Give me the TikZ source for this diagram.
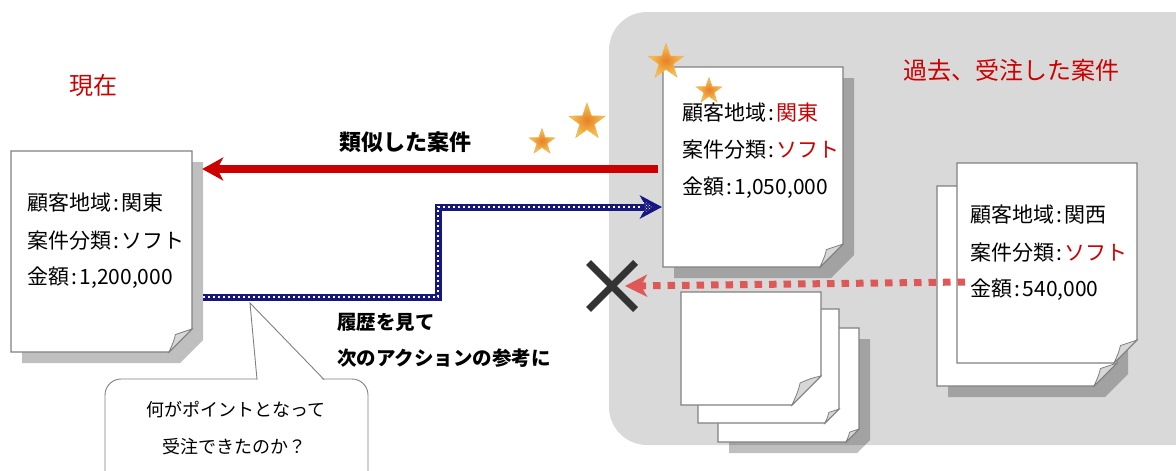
\documentclass[tikz,border=0pt]{standalone}
\usepackage{fontspec}
\newfontfamily\jp{Noto Sans CJK JP}
\usetikzlibrary{arrows.meta,shapes.geometric,shapes.misc,patterns}
\definecolor{redc}{RGB}{204,0,0}
\definecolor{navyc}{RGB}{22,22,128}
\definecolor{regionc}{RGB}{217,217,217}
\definecolor{pagelinec}{RGB}{128,128,128}
\definecolor{foldc}{RGB}{215,215,215}
\definecolor{dashredc}{RGB}{222,88,88}
\definecolor{crossc}{RGB}{51,51,51}
\definecolor{starin}{RGB}{232,128,40}
\definecolor{starout}{RGB}{247,200,80}
\definecolor{starline}{RGB}{236,180,90}
\newcommand\cln{\hbox to 0.5em{\hss:\hss}}
\newcommand\docpage[6]{%
  \filldraw[pageline] (#2,#3) -- (#4,#3) -- (#4,{#5-#6}) -- ({#4-#6},#5) -- (#2,#5) -- cycle;
  \filldraw[foldstyle] (#4,{#5-#6}) .. controls ({#4-0.35*#6},{#5-0.92*#6}) .. ({#4-0.72*#6},{#5-0.76*#6}) .. controls ({#4-0.8*#6},{#5-0.45*#6}) .. ({#4-#6},#5) -- cycle;
  \node[inner sep=0pt, minimum width={#4-#2}, minimum height={#5-#3}] (#1) at ({(#2+#4)/2},{(#3+#5)/2}) {};
}
\newcommand\docshadow[6]{%
  \fill[shadowstyle] ({#1+#6},{#2+#6}) -- ({#3+#6},{#2+#6}) -- ({#3+#6},{#4+#6-#5}) -- ({#3+#6-#5},{#4+#6}) -- ({#1+#6},{#4+#6}) -- cycle;
}
\begin{document}
\begin{tikzpicture}[x=1pt,y=-1pt,
  pageline/.style={draw=pagelinec, line width=1.1pt, fill=white, line join=miter},
  foldstyle/.style={draw=pagelinec, line width=0.8pt, fill=foldc},
  shadowstyle/.style={fill=black, fill opacity=0.25},
  doctext/.style={anchor=west, inner sep=0pt, font=\jp\fontsize{21}{25}\selectfont},
  titletext/.style={inner sep=0pt, text=redc, font=\jp\fontsize{24}{28}\selectfont},
  boldtext/.style={anchor=west, inner sep=0pt, font=\jp\bfseries\fontsize{19.5}{24}\selectfont},
  calltext/.style={inner sep=0pt, font=\jp\fontsize{18}{22}\selectfont},
  starc/.style={star, star points=5, star point ratio=2.5, inner sep=0pt, shade, shading=radial, inner color=starin, outer color=starout, draw=starline, line width=0.6pt},
  redarrow/.style={draw=redc, line width=8pt, -{Stealth[length=21pt,width=23pt,inset=6pt]}},
  bluearrow/.style={draw=navyc, line width=7pt, line join=miter, -{Stealth[length=22pt,width=23pt,inset=6pt]}},
  bluedots/.style={draw=white, line width=2.2pt, dash pattern=on 2.2pt off 2.8pt},
  dashredarrow/.style={draw=dashredc, line width=7pt, dash pattern=on 7.5pt off 7pt, -{Stealth[length=22pt,width=22pt,inset=6pt]}},
]
\useasboundingbox (0,0) rectangle (1176,471);
\clip (0,0) rectangle (1176,471);
% region of past cases
\fill[regionc, rounded corners=38pt] (609,12) rectangle (1240,445);

% current document
\docshadow{11}{151}{192}{352}{23}{11}
\docpage{d1}{11}{151}{192}{352}{23}
% similar past document
\docshadow{663}{67}{843}{267}{23}{11}
\docpage{d2}{663}{67}{843}{267}{23}
% stack of documents
\docshadow{718}{328}{859}{442}{13}{11}
\docpage{s3}{718}{328}{859}{442}{13}
\docpage{s2}{698}{309}{839}{423}{14}
\docpage{s1}{681}{292}{821}{405}{29}
% other past document
\docshadow{937}{186}{1117}{386}{23}{11}
\docpage{d3b}{937}{186}{1117}{386}{23}
\docpage{d3}{957}{163}{1137}{363}{23}

% titles
\node[titletext] (now) at (93,85) {現在};
\node[titletext] (past) at (1011,70) {過去、受注した案件};

% document texts
\node[doctext] (d1a) at (27,203) {顧客地域\cln 関東};
\node[doctext] (d1b) at (27,241) {案件分類\cln ソフト};
\node[doctext] (d1c) at (27,278) {金額\cln 1,200,000};
\node[doctext] (d2a) at (682,113) {顧客地域\cln\textcolor{redc}{関東}};
\node[doctext] (d2b) at (682,150) {案件分類\cln\textcolor{redc}{ソフト}};
\node[doctext] (d2c) at (682,188) {金額\cln 1,050,000};
\node[doctext] (d3a) at (970,215) {顧客地域\cln 関西};
\node[doctext] (d3b) at (970,253) {案件分類\cln\textcolor{redc}{ソフト}};
\node[doctext] (d3c) at (970,290) {金額\cln 540,000};

% connectors
\coordinate (redS) at (658,169);
\draw[redarrow] (redS) -- ([xshift=10pt]redS -| d1.east);
\node[boldtext, anchor=center, font=\jp\bfseries\fontsize{22}{26}\selectfont] (similar) at (405,142) {類似した案件};

\coordinate (blueS) at (203,297);
\coordinate (blueE) at (662,207);
\draw[bluearrow] (blueS) -- ++(235,0) |- (blueE);
\draw[bluedots] (blueS) -- ++(235,0) |- ([xshift=-22pt]blueE);
\fill[pattern=crosshatch dots, pattern color=white] (654,207) -- (642,200) -- (645,207) -- (642,214) -- cycle;

\node[boldtext] (hist1) at (337,322) {履歴を見て};
\node[boldtext] (hist2) at (337,358) {次のアクションの参考に};

\node[cross out, draw=crossc, line width=7pt, minimum size=40pt, inner sep=0pt] (ng) at (612,286) {};
\coordinate (dashS) at (965,282);
\draw[dashredarrow] (dashS) -- ([xshift=13pt]ng.center);

% stars
\node[starc, minimum size=27pt] (st1) at (542,142) {};
\node[starc, minimum size=38pt] (st2) at (587,122) {};
\node[starc, minimum size=37pt] (st3) at (666,62) {};
\node[starc, minimum size=27pt] (st4) at (709,91) {};

% callout
\node[draw=pagelinec, line width=0.9pt, fill=white, rounded corners=16pt, minimum width=263pt, minimum height=130pt, inner sep=0pt] (callbox) at (236.5,444) {};
\coordinate (tip) at (250,303);
\fill[white] (257.5,381) -- (tip) -- (323.5,381) -- cycle;
\draw[draw=pagelinec, line width=0.9pt, line join=miter] (257,379.5) -- (tip) -- (324,379.5);
\node[calltext] (call1) at (236,410) {何がポイントとなって};
\node[calltext] (call2) at (234,447) {受注できたのか？};
\end{tikzpicture}
\end{document}
